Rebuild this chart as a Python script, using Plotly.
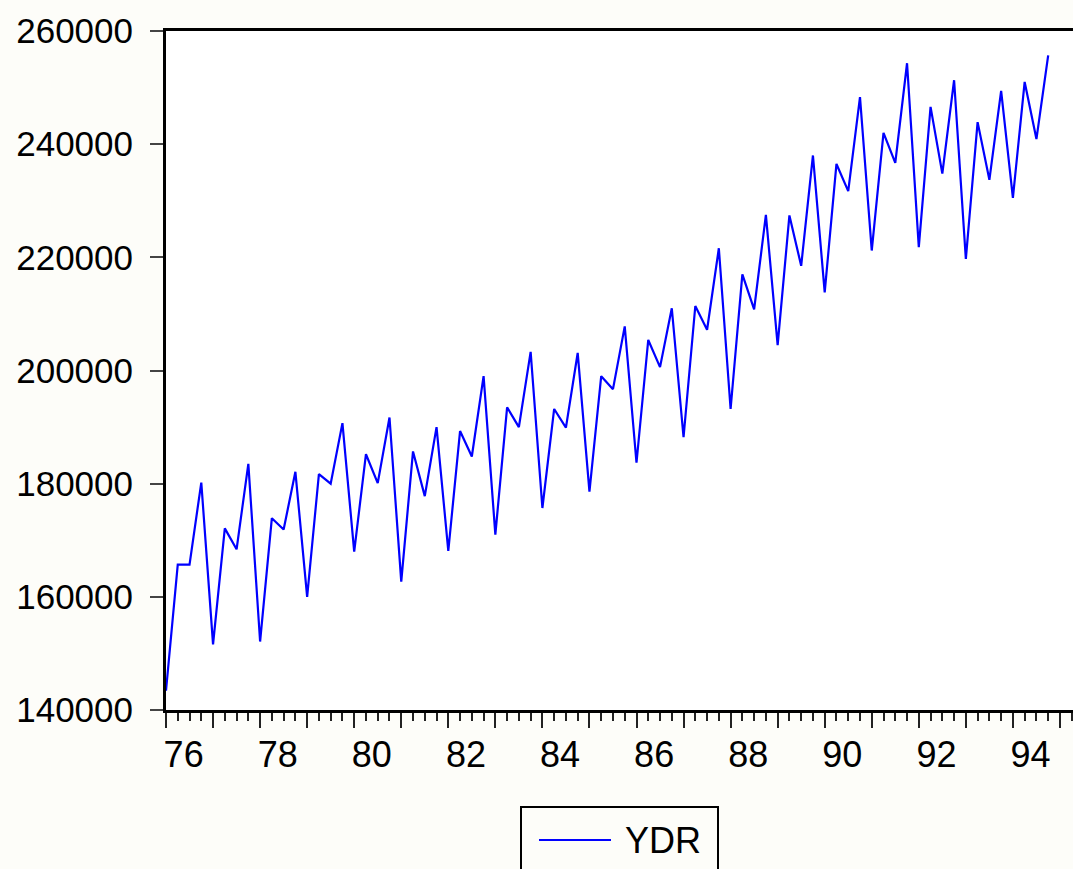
import plotly.graph_objects as go

# Quarterly series 1976Q1 - 1994Q4
start_year = 1976
n_quarters = 76
ydr = [
    143400, 165700, 165700, 180200, 151600, 172100, 168400, 183500,
    152100, 173900, 171900, 182100, 160000, 181700, 180000, 190700,
    168000, 185200, 180100, 191700, 162700, 185700, 177800, 190000,
    168100, 189300, 184800, 199000, 171000, 193500, 190000, 203300,
    175700, 193200, 189900, 203100, 178600, 199000, 196700, 207800,
    183700, 205400, 200600, 211000, 188200, 211400, 207200, 221600,
    193200, 217000, 210800, 227500, 204500, 227400, 218500, 238000,
    213800, 236500, 231700, 248300, 221200, 242000, 236700, 254300,
    221800, 246600, 234800, 251300, 219700, 243900, 233700, 249400,
    230500, 251000, 240900, 255700,
]
year_ticks = list(range(1976, 1996))
label_years = list(range(1976, 1995, 2))
label_text = ["76", "78", "80", "82", "84", "86", "88", "90", "92", "94"]
y_ticks = [140000, 160000, 180000, 200000, 220000, 240000, 260000]

x = [start_year + i / 4 for i in range(n_quarters)]

FONT = "Liberation Sans, Arial, sans-serif"
W, H = 1073, 869
L, T, B, R = 166, 31, 159, 0
PW, PH = W - L - R, H - T - B

def px(xp):
    return (xp - L) / PW

def py(yp):
    return (H - B - yp) / PH

fig = go.Figure()
fig.add_trace(go.Scatter(x=x, y=ydr, mode="lines", name="YDR",
                         line=dict(color="#0000FF", width=2.2),
                         showlegend=False))
# invisible companion on the label axis so it is drawn
fig.add_trace(go.Scatter(x=x, y=ydr, mode="lines", xaxis="x2",
                         line=dict(color="rgba(0,0,0,0)", width=0),
                         showlegend=False, hoverinfo="skip"))

xr = [1976, 1976 + PW / 47.05]

fig.update_layout(
    width=W, height=H,
    margin=dict(l=L, r=R, t=T, b=B),
    paper_bgcolor="#FDFDF9",
    plot_bgcolor="#FFFFFF",
    font=dict(family=FONT, size=35, color="black"),
    showlegend=False,
    xaxis=dict(range=xr, tickvals=year_ticks, showticklabels=False,
               ticks="outside", ticklen=15, tickwidth=1.5, tickcolor="#222",
               showline=True, linewidth=3, linecolor="black", mirror=True,
               showgrid=False, zeroline=False,
               minor=dict(tick0=1976, dtick=0.25, ticks="outside", ticklen=8,
                          tickwidth=1.5, tickcolor="#222", showgrid=False)),
    xaxis2=dict(range=xr, overlaying="x", anchor="y", side="bottom",
                tickvals=[y + 0.375 for y in label_years], ticktext=label_text,
                ticks="", showline=False, showgrid=False, zeroline=False,
                tickfont=dict(family=FONT, size=36, color="black"),
                ticklabelstandoff=20),
    yaxis=dict(range=[140000, 260000], tickvals=y_ticks,
               ticktext=[str(v) for v in y_ticks],
               ticks="outside", ticklen=13, tickwidth=1.5, tickcolor="#444",
               showline=True, linewidth=3, linecolor="black",
               showgrid=False, zeroline=False, ticklabelstandoff=10,
               tickfont=dict(family=FONT, size=35, color="black")),
)

# legend box drawn manually (EViews style)
fig.add_shape(type="rect", xref="paper", yref="paper",
              x0=px(521), x1=px(718), y0=py(885), y1=py(807),
              line=dict(color="black", width=2), fillcolor="rgba(0,0,0,0)")
fig.add_shape(type="line", xref="paper", yref="paper",
              x0=px(539), x1=px(611), y0=py(840), y1=py(840),
              line=dict(color="#0000FF", width=2))
fig.add_annotation(xref="paper", yref="paper", x=px(623), y=py(840),
                   xanchor="left", yanchor="middle", text="YDR",
                   showarrow=False, font=dict(family=FONT, size=36, color="black"))

fig.write_html(
    "out.html",
    config={"displayModeBar": False},
    post_script="document.body.style.margin='0';"
                "document.body.style.overflow='hidden';"
                "document.documentElement.style.overflow='hidden';",
)
